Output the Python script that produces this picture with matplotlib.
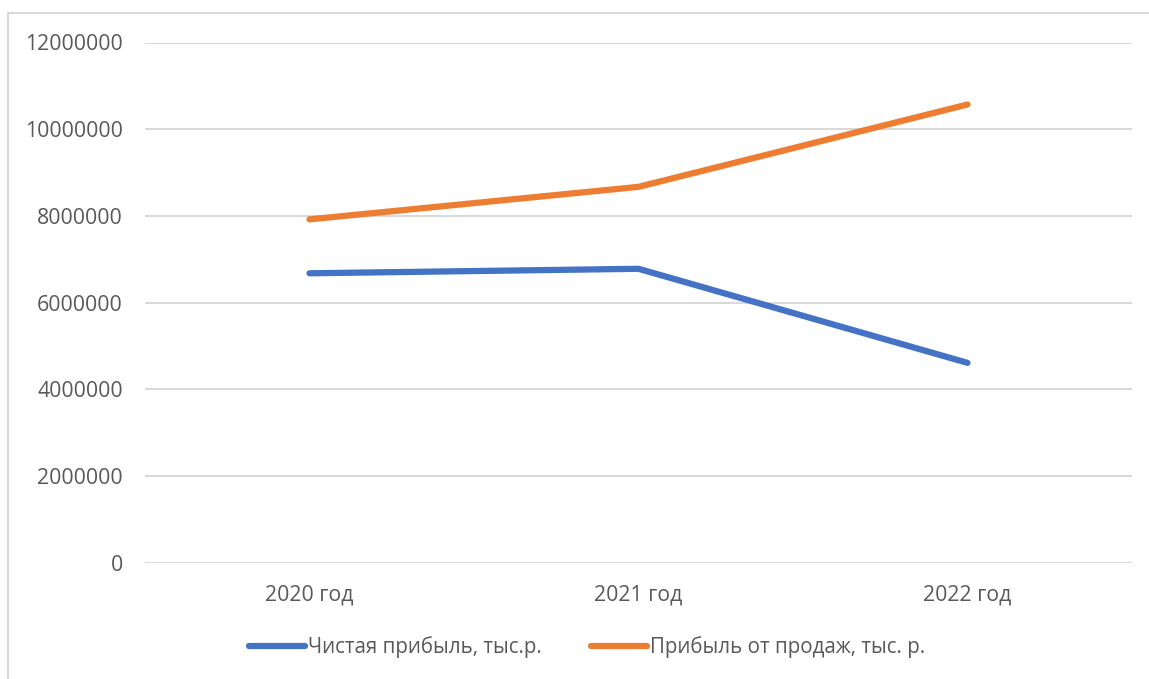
import matplotlib.pyplot as plt
from matplotlib.lines import Line2D

years = ["2020 год", "2021 год", "2022 год"]
net_profit = [6676000, 6780000, 4610000]
sales_profit = [7920000, 8670000, 10570000]
series_names = ["Чистая прибыль, тыс.р.", "Прибыль от продаж, тыс. р."]
y_ticks = [0, 2000000, 4000000, 6000000, 8000000, 10000000, 12000000]

plt.rcParams['font.family'] = ['Open Sans', 'DejaVu Sans']
text_col = '#595959'
grid_col = '#d9d9d9'

fig = plt.figure(figsize=(11.49, 6.79), dpi=100)
ax = fig.add_axes([145/1149, 1-562.7/679, (1132-145)/1149, (562.7-42.5)/679])

x = list(range(len(years)))
l1, = ax.plot(x, net_profit, color='#4472c4', lw=4.5, solid_capstyle='round', solid_joinstyle='round')
l2, = ax.plot(x, sales_profit, color='#ed7d31', lw=4.5, solid_capstyle='round', solid_joinstyle='round')

ax.set_xlim(-0.5, 2.5)
ax.set_ylim(0, 12000000)
ax.set_yticks(y_ticks)
ax.set_yticklabels([str(v) for v in y_ticks])
ax.set_xticks(x)
ax.set_xticklabels(years)
ax.tick_params(axis='y', length=0, pad=16, labelsize=15.3, labelcolor=text_col)
ax.tick_params(axis='x', length=0, pad=16, labelsize=15.3, labelcolor=text_col)
ax.grid(axis='y', color=grid_col, lw=1.5)
ax.set_axisbelow(True)
for s in ax.spines.values():
    s.set_visible(False)

leg = fig.legend([l1, l2], series_names, loc='center', bbox_to_anchor=(0.511, 1-647/679),
                 ncol=2, frameon=False, fontsize=14.8, handlelength=2.7, handletextpad=0.15,
                 columnspacing=2.4)
for t in leg.get_texts():
    t.set_color(text_col)

# outer chart border (cropped)
fig.add_artist(Line2D([8/1149, 1], [1-13/679, 1-13/679], transform=fig.transFigure, color=grid_col, lw=1.5))
fig.add_artist(Line2D([8/1149, 8/1149], [0, 1-13/679], transform=fig.transFigure, color=grid_col, lw=1.5))

fig.savefig('out.png', dpi=100)
